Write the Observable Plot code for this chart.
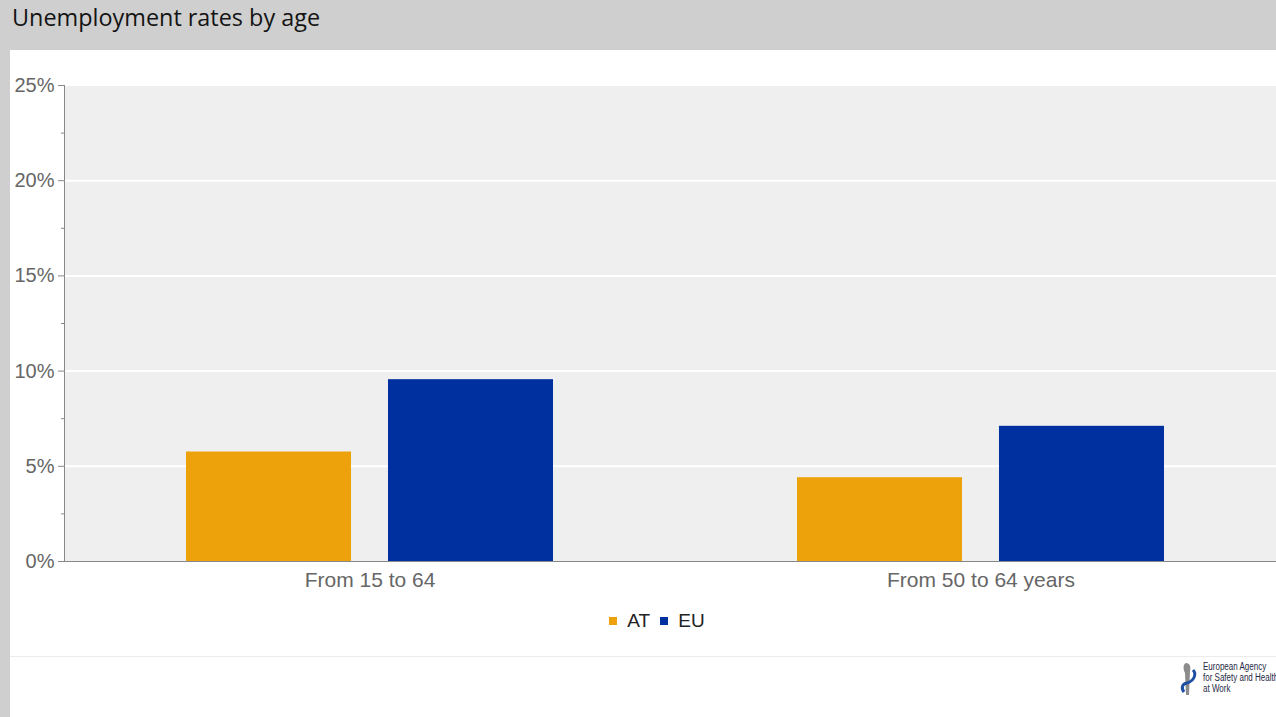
<!DOCTYPE html>
<html>
<head>
<meta charset="utf-8">
<script src="https://cdn.jsdelivr.net/npm/d3@7"></script>
<script src="https://cdn.jsdelivr.net/npm/@observablehq/plot@0.6"></script>
<style>
  html, body { margin: 0; padding: 0; }
  body { width: 1276px; height: 717px; overflow: hidden; position: relative; background: #fff; font-family: "Liberation Sans", Arial, sans-serif; }
  #header { position: absolute; left: 0; top: 0; width: 1276px; height: 50px; background: #cfcfcf; }
  #title { position: absolute; left: 12px; top: 0px; font-family: "Open Sans", sans-serif; font-size: 24px; font-weight: 500; color: #141414; transform-origin: left top; transform: scaleX(0.975); white-space: nowrap; }
  #strip { position: absolute; left: 0; top: 50px; width: 10px; height: 667px; background: #cfcfcf; }
  #chart { position: absolute; left: 0; top: 50px; width: 1300px; }
  #chart svg { max-width: none !important; }
  #legend { position: absolute; top: 610px; left: 0; width: 1314px; display: flex; justify-content: center; align-items: center; font-size: 19px; color: #222; }
  #legend .item { display: flex; align-items: center; margin: 0 5px; }
  #legend .sw { width: 8px; height: 8px; margin-right: 10px; }
  #sep { position: absolute; left: 10px; top: 656px; width: 1266px; height: 1px; background: #ececec; }
  #logo { position: absolute; left: 1178px; top: 661px; display: flex; align-items: flex-start; }
  #logo .txt { font-family: "Liberation Sans Narrow", "Liberation Sans", sans-serif; font-size: 10px; line-height: 11px; color: #1f2a44; margin-left: 3px; white-space: nowrap; transform: scaleX(0.8); transform-origin: left top; }
</style>
</head>
<body>
<div id="header"><div id="title">Unemployment rates by age</div></div>
<div id="strip"></div>
<div id="chart"></div>
<div id="legend"></div>
<div id="sep"></div>
<div id="logo">
  <svg width="22" height="36" viewBox="0 0 22 36">
    <path d="M8 2 C12 2 13 6 12 10 L11 34 L8 34 L7 12 C5 8 5 3 8 2 Z" fill="#8c8c8c"/>
    <path d="M15 9 C19 13 16 20 9 22 C4 23 3 27 6 31" fill="none" stroke="#1f4fa3" stroke-width="3"/>
  </svg>
  <div class="txt">European Agency<br>for Safety and Health<br>at Work</div>
</div>
<script>
const categories = ["From 15 to 64", "From 50 to 64 years"];
const series = ["AT", "EU"];
const atValues = [5.75, 4.4];
const euValues = [9.55, 7.1];
const seriesColors = ["#eda20b", "#002f9f"];
const yTicks = [0, 5, 10, 15, 20, 25];
const yMinorTicks = [2.5, 7.5, 12.5, 17.5, 22.5];
const gridTicks = [5, 10, 15, 20];

const valuesBySeries = {AT: atValues, EU: euValues};
const rows = categories.flatMap((c, i) => series.map(s => ({category: c, series: s, value: valuesBySeries[s][i]})));

const chart = Plot.plot({
  width: 1300,
  height: 560,
  marginLeft: 64,
  marginRight: 14,
  marginTop: 35,
  marginBottom: 49,
  style: {fontFamily: "'Liberation Sans', Arial, sans-serif", background: "transparent", overflow: "visible", maxWidth: "none"},
  fx: {domain: categories, padding: 0, label: null},
  x: {domain: series, paddingInner: 0.183, paddingOuter: 0.604, round: false, axis: null},
  y: {domain: [0, 25], label: null},
  color: {domain: series, range: seriesColors},
  marks: [
    Plot.frame({fill: "#efefef", stroke: null, shapeRendering: "crispEdges"}),
    Plot.gridY({ticks: gridTicks, stroke: "#ffffff", strokeOpacity: 1, strokeWidth: 2}),
    Plot.barY(rows, {fx: "category", x: "series", y: "value", fill: "series"}),
    Plot.ruleY([0], {stroke: "#888", strokeWidth: 1.2}),
    Plot.axisY({ticks: yTicks, tickFormat: d => d + "%", tickSize: 6, tickPadding: 4, fontSize: 20, color: "#666", stroke: "#888", label: null}),
    Plot.axisY({ticks: yMinorTicks, tickFormat: () => "", tickSize: 3, stroke: "#888", label: null}),
    Plot.frame({anchor: "left", stroke: "#888", facetAnchor: "left"}),
    Plot.axisFx({anchor: "bottom", tickSize: 0, tickPadding: 11, fontSize: 21, color: "#666", label: null})
  ]
});
document.getElementById("chart").appendChild(chart);

const legend = document.getElementById("legend");
series.forEach((s, i) => {
  const item = document.createElement("div");
  item.className = "item";
  const sw = document.createElement("div");
  sw.className = "sw";
  sw.style.background = seriesColors[i];
  const t = document.createElement("span");
  t.textContent = s;
  item.appendChild(sw);
  item.appendChild(t);
  legend.appendChild(item);
});
</script>
</body>
</html>
